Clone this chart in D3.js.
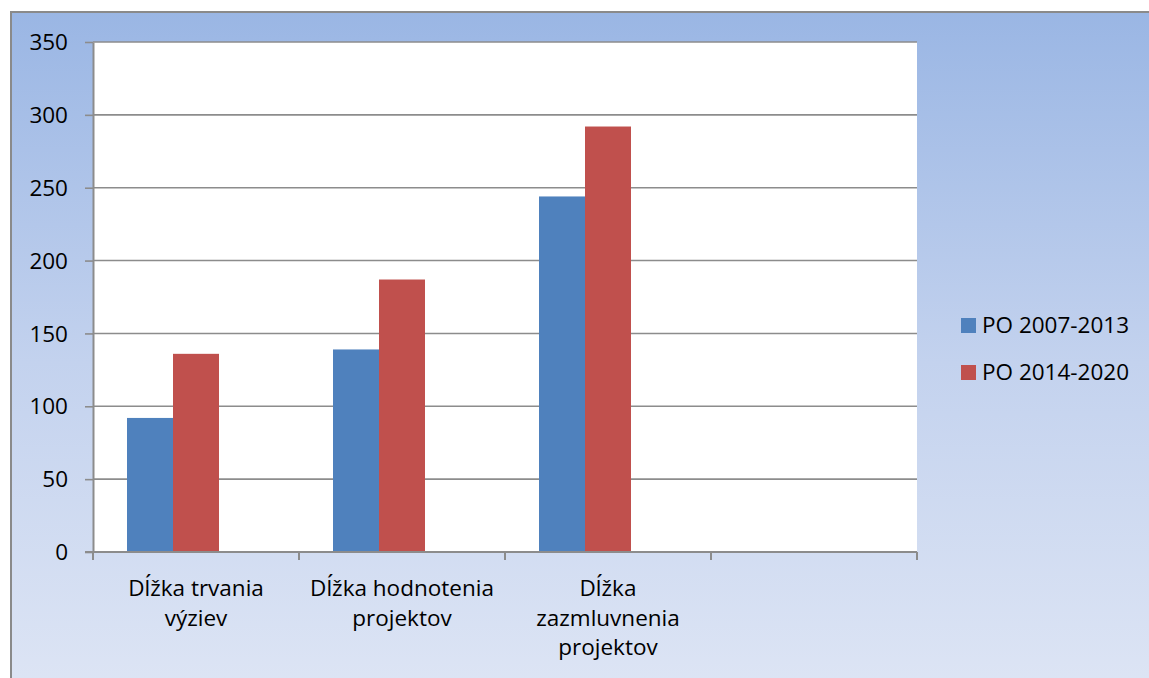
<!DOCTYPE html>
<html><head><meta charset="utf-8">
<script src="https://cdn.jsdelivr.net/npm/d3@7"></script>
<style>html,body{margin:0;padding:0;overflow:hidden;background:#fff}</style>
</head><body>
<svg id="c" width="1149" height="678"></svg>
<script>
const categories = ["Dĺžka trvania výziev", "Dĺžka hodnotenia projektov", "Dĺžka zazmluvnenia projektov", ""];
const categoryLines = [["Dĺžka trvania", "výziev"], ["Dĺžka hodnotenia", "projektov"], ["Dĺžka", "zazmluvnenia", "projektov"], []];
const seriesNames = ["PO 2007-2013", "PO 2014-2020"];
const series1 = [92, 139, 244, null];
const series2 = [136, 187, 292, null];
const yTicks = [0, 50, 100, 150, 200, 250, 300, 350];
const colors = ["#4f81bd", "#c0504d"];

const FONT = "'Open Sans', sans-serif";
const FS = 22.5;

const svg = d3.select("#c");
const defs = svg.append("defs");
const grad = defs.append("linearGradient").attr("id", "bg").attr("x1", 0).attr("y1", 0).attr("x2", 0).attr("y2", 1);
grad.append("stop").attr("offset", "0%").attr("stop-color", "#9ab6e4");
grad.append("stop").attr("offset", "50%").attr("stop-color", "#c3d2ee");
grad.append("stop").attr("offset", "100%").attr("stop-color", "#dfe6f5");

svg.append("rect").attr("x", 11).attr("y", 12).attr("width", 1160).attr("height", 700)
  .attr("fill", "url(#bg)").attr("stroke", "#8a8a8a").attr("stroke-width", 2);

const m = {l: 93, t: 42, r: 917, b: 552};
const x = d3.scaleBand().domain(d3.range(categories.length)).range([m.l, m.r]);
const y = d3.scaleLinear().domain([0, 350]).range([m.b, m.t]);
// three series slots per category (third slot empty), Excel-style gap
const gap = 68 / 206;
const sub = d3.scaleBand().domain([0, 1, 2]).range([x.bandwidth() * gap / 2, x.bandwidth() * (1 - gap / 2)]);

svg.append("rect").attr("x", m.l).attr("y", m.t).attr("width", m.r - m.l).attr("height", m.b - m.t).attr("fill", "#fff");

// gridlines
svg.append("g").selectAll("line").data(yTicks.filter(d => d > 0)).join("line")
  .attr("x1", m.l).attr("x2", m.r).attr("y1", d => y(d)).attr("y2", d => y(d))
  .attr("stroke", "#8c8c8c").attr("stroke-width", 1.6);

// bars
[series1, series2].forEach((s, si) => {
  svg.append("g").selectAll("rect").data(s.map((v, i) => ({v, i})).filter(d => d.v != null)).join("rect")
    .attr("x", d => x(d.i) + sub(si)).attr("width", sub.bandwidth())
    .attr("y", d => y(d.v)).attr("height", d => y(0) - y(d.v))
    .attr("fill", colors[si]);
});

// y axis
const yAxis = d3.axisLeft(y).tickValues(yTicks).tickSize(8).tickPadding(17).tickSizeOuter(0);
const gy = svg.append("g").attr("transform", `translate(${m.l},0)`).call(yAxis);
gy.select(".domain").attr("stroke", "#8c8c8c").attr("stroke-width", 2);
gy.selectAll(".tick line").attr("stroke", "#8c8c8c").attr("stroke-width", 1.6);
gy.selectAll(".tick text").attr("font-family", FONT).attr("font-size", FS).attr("fill", "#000").attr("dy", "0.34em");

// x axis
svg.append("line").attr("x1", m.l - 8).attr("x2", m.r).attr("y1", m.b).attr("y2", m.b).attr("stroke", "#8c8c8c").attr("stroke-width", 2);
const bounds = d3.range(categories.length + 1).map(i => m.l + i * x.step());
svg.append("g").selectAll("line").data(bounds).join("line")
  .attr("x1", d => d).attr("x2", d => d).attr("y1", m.b).attr("y2", m.b + 8)
  .attr("stroke", "#8c8c8c").attr("stroke-width", 2);

const xl = svg.append("g");
categoryLines.forEach((lines, i) => {
  lines.forEach((t, j) => {
    xl.append("text").attr("x", x(i) + x.bandwidth() / 2).attr("y", 596 + j * 29.5)
      .attr("text-anchor", "middle").attr("font-family", FONT).attr("font-size", FS)
      .attr("fill", "#000").text(t);
  });
});

// legend
seriesNames.forEach((n, i) => {
  const ly = 325 + i * 47;
  svg.append("rect").attr("x", 961).attr("y", ly - 7).attr("width", 15).attr("height", 15).attr("fill", colors[i]);
  svg.append("text").attr("x", 982).attr("y", ly + 8).attr("font-family", FONT)
    .attr("font-size", FS).attr("fill", "#000").text(n);
});
</script>
</body></html>
